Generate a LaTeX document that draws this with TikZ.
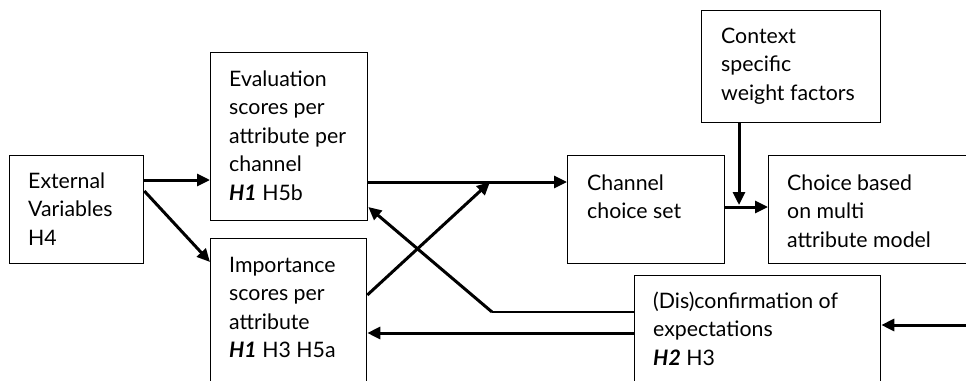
\documentclass[tikz,border=0pt]{standalone}
\usepackage{fontspec}
\setmainfont{Lato}
\usetikzlibrary{arrows.meta}
\tikzset{
  box/.style={draw=black, line width=1.3pt, rectangle, inner sep=0pt, anchor=north west},
  txt/.style={anchor=base west, inner sep=0pt, font=\fontsize{21.3}{28.5}\selectfont},
  thick arrow/.style={line width=3pt, -{Triangle[length=13pt,width=12pt]}},
  thin link/.style={line width=1.3pt},
}
\newcommand{\boxtext}[1]{\begin{tabular}[t]{@{}l@{}}#1\end{tabular}}
\begin{document}
\begin{tikzpicture}[x=1pt, y=-1pt]
\useasboundingbox (0,0) rectangle (966,380);
\clip (0,0) rectangle (966,380);
\fill[white] (0,0) rectangle (966,380);

% boxes
\node[box, minimum width=134pt, minimum height=108pt] (ext) at (9,155) {};
\node[box, minimum width=157pt, minimum height=168pt] (ev) at (210,52) {};
\node[box, minimum width=156pt, minimum height=170pt] (imp) at (210,238) {};
\node[box, minimum width=157pt, minimum height=108pt] (ch) at (567,155) {};
\node[box, minimum width=240pt, minimum height=108pt] (mc) at (768,155) {};
\node[box, minimum width=179pt, minimum height=112pt] (ctx) at (701,10) {};
\node[box, minimum width=246pt, minimum height=130pt] (dis) at (634,275) {};

% labels
\node[txt] (extT) at (28,188) {\boxtext{External\\Variables\\H4}};
\node[txt] (evT) at (229,86) {\boxtext{Evaluation\\scores per\\attribute per\\channel\\\textbf{\textit{H1}} H5b}};
\node[txt] (impT) at (229,272) {\boxtext{Importance\\scores per\\attribute\\\textbf{\textit{H1}} H3 H5a}};
\node[txt] (chT) at (587,190) {\boxtext{Channel\\choice set}};
\node[txt] (mcT) at (787,190) {\boxtext{Choice based\\on multi\\attribute model}};
\node[txt] (ctxT) at (721,43) {\boxtext{Context\\specific\\weight factors}};
\node[txt] (disT) at (653,308) {\boxtext{(Dis)confirmation of\\expectations\\\textbf{\textit{H2}} H3}};

% junction points
\coordinate (join) at (490,182);
\coordinate (bend) at (492,312);
\coordinate (feed) at (966,325);

% connectors
\draw[thick arrow] (ext.east |- 0,180) -- (ev.west |- 0,180);
\draw[thick arrow] (ext.east |- 0,191) -- (imp.west |- 0,262);
\draw[thick arrow] (ev.east |- 0,182) -- (ch.west |- 0,182);
\draw[thick arrow] (imp.east |- 0,295) -- (join);
\draw[thick arrow] (dis.west |- 0,333) -- (imp.east |- 0,333);
\draw[thin link] (dis.west |- 0,312) -- (bend);
\draw[thick arrow] (bend) -- (ev.east |- 0,207);
\draw[thick arrow] (ctx.south -| 739,0) -- (739,205);
\draw[thick arrow] (ch.east |- 0,207) -- (mc.west |- 0,207);
\draw[thick arrow] (feed) -- (dis.east |- 0,325);
\end{tikzpicture}
\end{document}
